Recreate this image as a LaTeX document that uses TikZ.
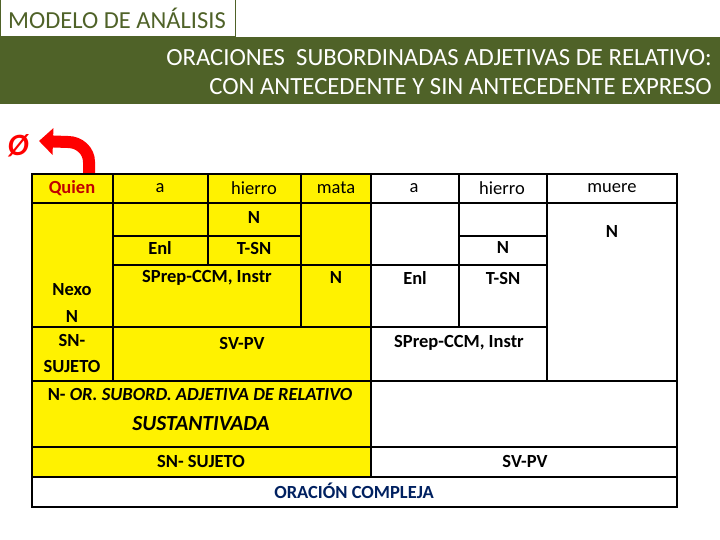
\documentclass[tikz,border=0pt]{standalone}
\usepackage{fontspec}
\setmainfont{Carlito}
\usepackage{tikz}
\usetikzlibrary{arrows.meta}

\definecolor{olive}{RGB}{79,98,40}
\definecolor{quienred}{RGB}{192,0,0}
\definecolor{navy}{RGB}{0,32,96}

\tikzset{
  word/.style={font=\fontsize{18.5}{20}\selectfont, inner sep=0pt},
  tag/.style={font=\fontsize{18.5}{20}\selectfont\bfseries, inner sep=0pt},
  grid line/.style={line width=1.6pt},
}

\begin{document}
\begin{tikzpicture}[x=1pt, y=-1pt]
  \useasboundingbox (0,0) rectangle (720,540);

  % header
  \fill[olive] (0,37) rectangle (720,104);
  \draw[olive, line width=1pt] (0.5,0) rectangle (235,37);
  \node[font=\fontsize{24.5}{26}\selectfont, text=olive] at (117,18) (modelo) {MODELO DE ANÁLISIS};
  \node[font=\fontsize{24.7}{29}\selectfont, text=white, align=right, anchor=east, inner sep=0pt] at (712,72) (titulo)
    {ORACIONES \ SUBORDINADAS ADJETIVAS DE RELATIVO:\\CON ANTECEDENTE Y SIN ANTECEDENTE EXPRESO};

  % yellow part of the table
  \fill[yellow] (32,174) rectangle (371,477);

  % words
  \node[tag, text=quienred] at (72,188) (quien) {Quien};
  \node[word] at (160,188) (a1) {a};
  \node[word] at (254,188) (hierro1) {hierro};
  \node[word] at (336,188) (mata) {mata};
  \node[word] at (414,188) (a2) {a};
  \node[word] at (502,188) (hierro2) {hierro};
  \node[word] at (612,188) (muere) {muere};

  % functions, left
  \node[tag] at (254,218) (n1) {N};
  \node[tag] at (160,248) (enl1) {Enl};
  \node[tag] at (254,248) (tsn1) {T-SN};
  \node[tag] at (207,278) (sprep1) {SPrep-CCM, Instr};
  \node[tag] at (336,278) (n2) {N};
  \node[tag, align=center] at (72,303) (nexo) {Nexo\\[7pt]N};
  \node[tag, align=center] at (72,354) (snsuj) {SN-\\[6pt]SUJETO};
  \node[tag] at (242,343) (svpv1) {SV-PV};
  \node[tag] at (200,394) (orsub) {N- \textit{OR. SUBORD. ADJETIVA DE RELATIVO}};
  \node[tag, font=\fontsize{21.5}{23}\selectfont\bfseries\itshape] at (201,424) (sust) {SUSTANTIVADA};
  \node[tag] at (201,461) (snsuj2) {SN- SUJETO};

  % functions, right
  \node[tag] at (503,248) (n3) {N};
  \node[tag] at (415,278) (enl2) {Enl};
  \node[tag] at (503,278) (tsn2) {T-SN};
  \node[tag] at (612,232) (n4) {N};
  \node[tag] at (459,343) (sprep2) {SPrep-CCM, Instr};
  \node[tag] at (525,461) (svpv2) {SV-PV};
  \node[tag, text=navy] at (354,491) (oracion) {ORACIÓN COMPLEJA};

  % grid
  \draw[grid line] (32,174) rectangle (677,507);
  \draw[grid line] (32,203) -- (677,203);
  \draw[grid line] (113,236) -- (301,236);
  \draw[grid line] (459,236) -- (547,236);
  \draw[grid line] (113,265) -- (547,265);
  \draw[grid line] (32,327) -- (547,327);
  \draw[grid line] (32,381) -- (677,381);
  \draw[grid line] (32,447) -- (677,447);
  \draw[grid line] (32,477) -- (677,477);
  \draw[grid line] (113,174) -- (113,381);
  \draw[grid line] (208,174) -- (208,265);
  \draw[grid line] (301,174) -- (301,327);
  \draw[grid line] (371,174) -- (371,477);
  \draw[grid line] (459,174) -- (459,327);
  \draw[grid line] (547,174) -- (547,381);

  % empty antecedent
  \node[font=\fontsize{31}{32}\selectfont\bfseries\itshape, text=red, inner sep=0pt] at (18,146) (vacio) {Ø};
  \coordinate (salida) at (89,173);
  \coordinate (punta) at (39,141);
  \draw[red, line width=12pt, -{Triangle[length=14pt, width=26pt]}]
    (salida) -- (89,162) to[out=90, in=0] (68,142) -- (punta);
\end{tikzpicture}
\end{document}
